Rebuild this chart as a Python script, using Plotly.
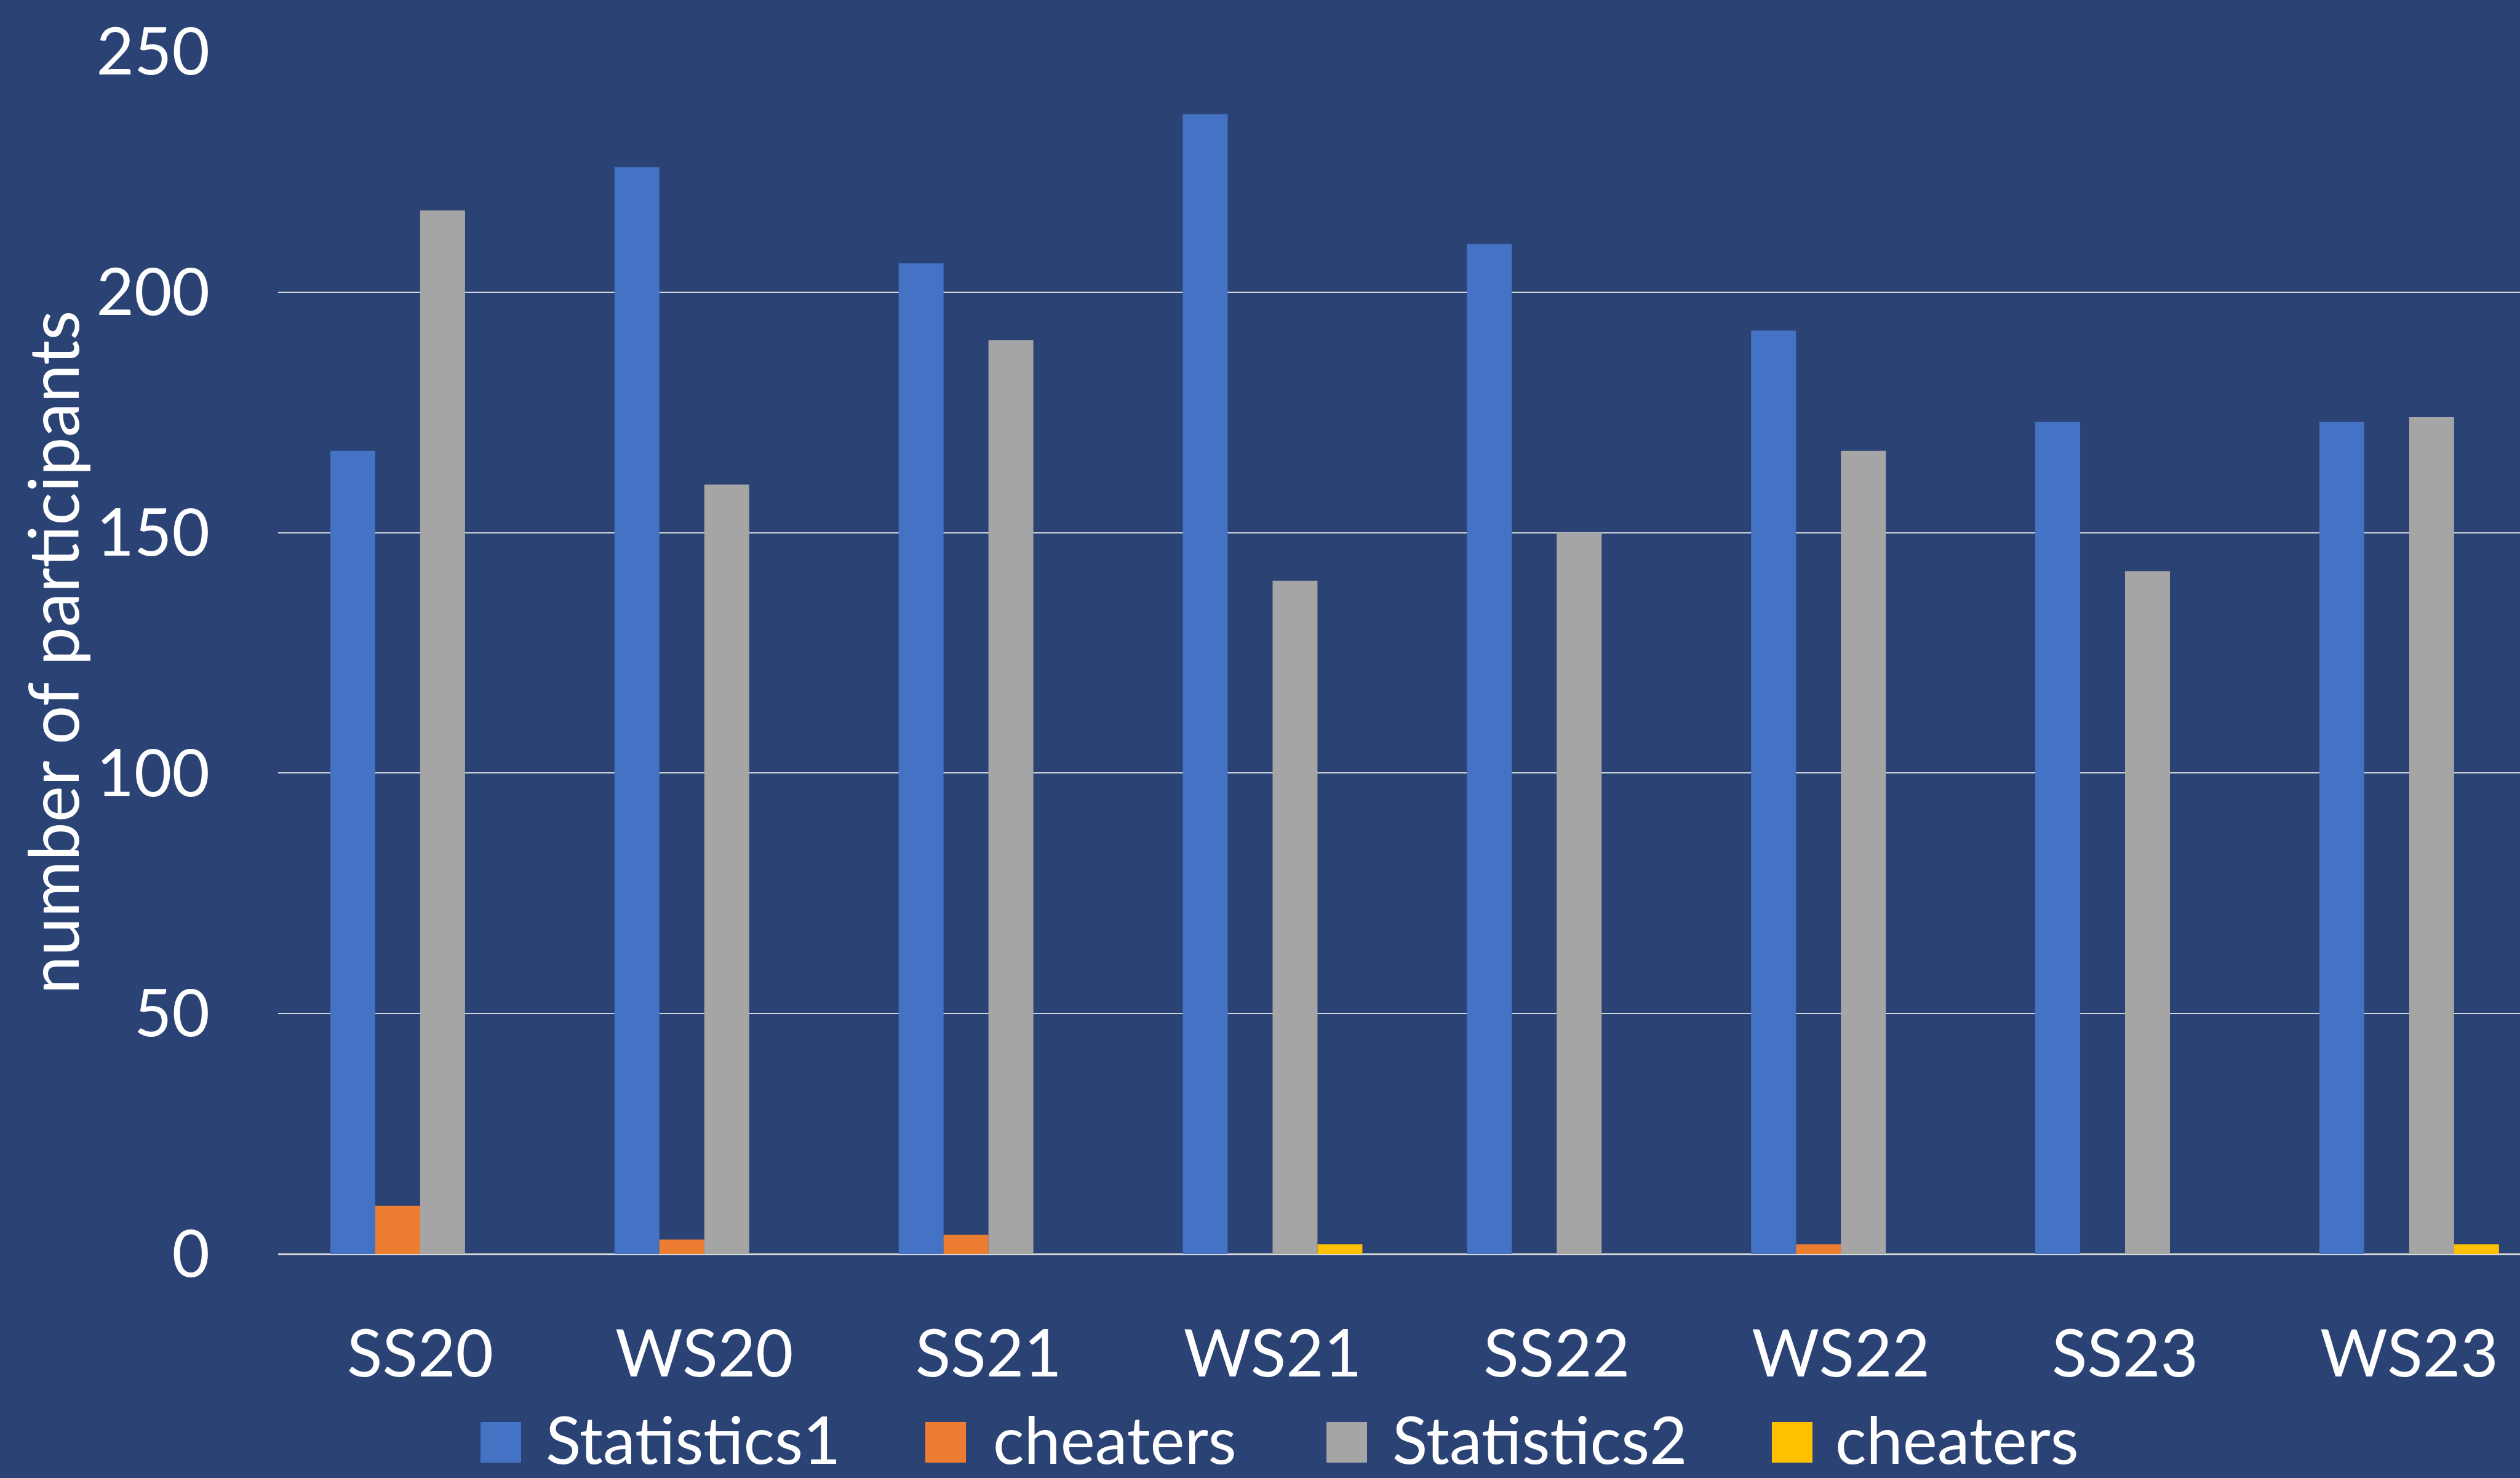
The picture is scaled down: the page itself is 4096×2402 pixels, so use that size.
import plotly.graph_objects as go

categories = ["SS20", "WS20", "SS21", "WS21", "SS22", "WS22", "SS23", "WS23"]
statistics1 = [167, 226, 206, 237, 210, 192, 173, 173]
cheaters1 = [10, 3, 4, 0, 0, 2, 0, 0]
statistics2 = [217, 160, 190, 140, 150, 167, 142, 174]
cheaters2 = [0, 0, 0, 2, 0, 0, 0, 2]
series_names = ["Statistics1", "cheaters", "Statistics2", "cheaters"]
series_colors = ["#4472C4", "#ED7D31", "#A5A5A5", "#FFC000"]
y_ticks = [0, 50, 100, 150, 200, 250]

W, H = 4096, 2402
BG = "#2B4374"
FONT = "Lato"
FS = 106

# plot area in pixels
L, R = 452, W
T, B = 84, 2038
PW, PH = R - L, B - T


def px_x(px):
    return (px - L) / PW


def px_y(py):
    return (B - py) / PH


fig = go.Figure()
for name, vals, col in zip(series_names, [statistics1, cheaters1, statistics2, cheaters2], series_colors):
    fig.add_trace(go.Bar(x=categories, y=vals, name=name, marker=dict(color=col, line=dict(width=0)),
                         showlegend=False))

fig.update_layout(
    width=W, height=H,
    paper_bgcolor=BG, plot_bgcolor=BG,
    margin=dict(l=L, r=W - R, t=T, b=H - B, autoexpand=False),
    barmode="group", bargap=0.368, bargroupgap=0,
    font=dict(family=FONT, size=FS, color="white"),
    xaxis=dict(type="category", range=[-0.5, 7.39], showgrid=False, showline=False, zeroline=False,
               ticks="", ticklabelstandoff=92, tickfont=dict(size=FS, color="white"), fixedrange=True),
    yaxis=dict(range=[0, 250], tickvals=y_ticks, showgrid=True, gridcolor="#D0D4DC", gridwidth=1.6,
               zeroline=True, zerolinecolor="#D9D9D9", zerolinewidth=3, showline=False, ticks="",
               ticklabelstandoff=110, tickfont=dict(size=FS, color="white"), fixedrange=True),
)

# y-axis title
fig.add_annotation(text="number of participants", xref="paper", yref="paper",
                   x=px_x(84), y=px_y(1060), showarrow=False, textangle=-90,
                   xanchor="center", yanchor="middle", font=dict(size=112, color="white", family=FONT))

# manual legend (large square swatches)
sq_left = [781, 1504, 2156, 2880]
txt_left = [885, 1612, 2261, 2981]
sq_top, sq_bot = 2311, 2377
for name, col, sl, tl in zip(series_names, series_colors, sq_left, txt_left):
    fig.add_shape(type="rect", xref="paper", yref="paper", x0=px_x(sl), x1=px_x(sl + 66),
                  y0=px_y(sq_bot), y1=px_y(sq_top), fillcolor=col, line=dict(width=0))
    fig.add_annotation(text=name, xref="paper", yref="paper", x=px_x(tl), y=px_y(2338),
                       showarrow=False, xanchor="left", yanchor="middle",
                       font=dict(size=FS, color="white", family=FONT))

fig.write_html("out.html", config={"displayModeBar": False},
               post_script="document.body.style.margin='0';document.body.style.background='#2B4374';")
